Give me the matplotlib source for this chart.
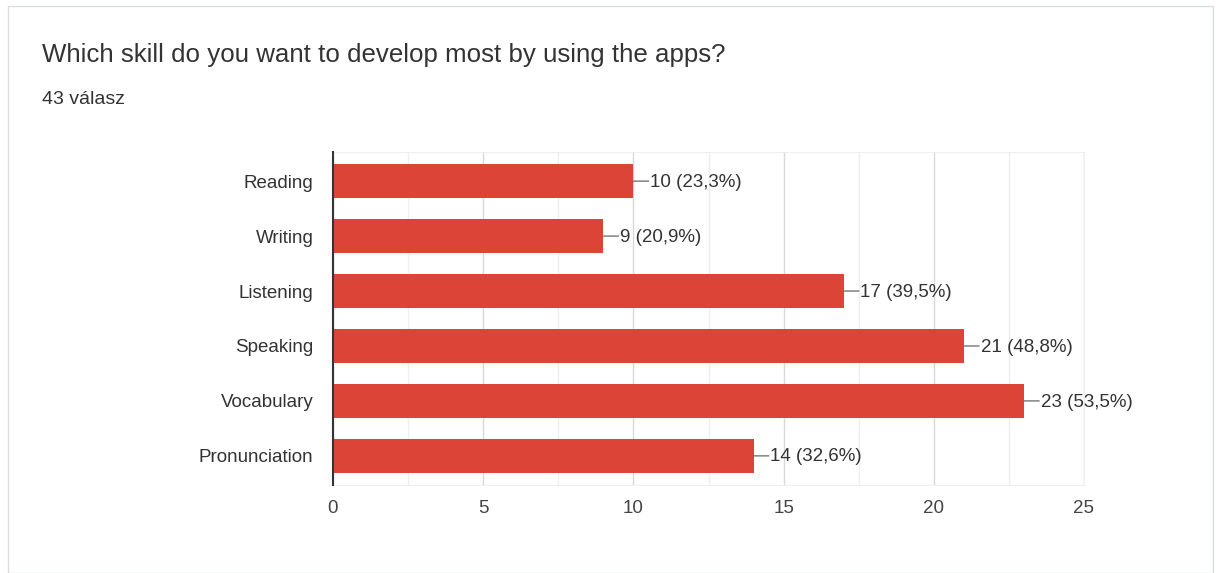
import matplotlib.pyplot as plt
from matplotlib.patches import Rectangle

skills = ['Reading', 'Writing', 'Listening', 'Speaking', 'Vocabulary', 'Pronunciation']
counts = [10, 9, 17, 21, 23, 14]
percents = ['23,3%', '20,9%', '39,5%', '48,8%', '53,5%', '32,6%']
total = 43

bar_color = '#db4437'
text_color = '#333333'

fig = plt.figure(figsize=(12.21, 5.73), dpi=100)
fig.patch.set_facecolor('white')

# card outline
fig.add_artist(Rectangle((8 / 1221, 0), 1205 / 1221, 1 - 6 / 573,
                         transform=fig.transFigure, fill=False,
                         edgecolor='#dadce0', linewidth=1.0))

fig.text(42 / 1221, 1 - 55 / 573, 'Which skill do you want to develop most by using the apps?',
         fontsize=18.6, family='Liberation Sans', color='#333333', va='center')
fig.text(42 / 1221, 1 - 99 / 573, f'{total} válasz',
         fontsize=14, family='Liberation Sans', color='#333333', va='center')

ax = fig.add_axes([333 / 1221, 1 - 485 / 573, 751 / 1221, 333 / 573])
ypos = list(range(len(skills)))
ax.barh(ypos, counts, height=0.62, color=bar_color, zorder=3)

ax.set_xlim(0, 25)
ax.set_ylim(len(skills) - 0.47, -0.53)
ax.set_xticks([0, 5, 10, 15, 20, 25])
ax.set_xticks([2.5, 7.5, 12.5, 17.5, 22.5], minor=True)
ax.set_yticks(ypos)
ax.set_yticklabels(skills)
ax.grid(axis='x', which='major', color='#d9d9d9', linewidth=1, zorder=0)
ax.grid(axis='x', which='minor', color='#efefef', linewidth=1, zorder=0)
ax.tick_params(which='both', length=0)
ax.tick_params(axis='y', pad=14, labelsize=13.5, labelcolor=text_color)
ax.tick_params(axis='x', pad=11, labelsize=13.5, labelcolor='#444444')
for lbl in ax.get_xticklabels() + ax.get_yticklabels():
    lbl.set_family('Liberation Sans')

for side in ['top', 'right', 'bottom']:
    ax.spines[side].set_color('#efefef')
ax.spines['left'].set_color('#333333')
ax.spines['left'].set_linewidth(1.5)
ax.spines['left'].set_zorder(4)

# value labels with a short leader line from the bar end
for y, c, p in zip(ypos, counts, percents):
    ax.annotate('', xy=(c, y), xytext=(11, 0), textcoords='offset points',
                arrowprops=dict(arrowstyle='-', color='#666666', lw=0.9,
                                shrinkA=0, shrinkB=0))
    ax.annotate(f'{c} ({p})', xy=(c, y), xytext=(12, -0.8), textcoords='offset points',
                va='center', ha='left', fontsize=13.5, family='Liberation Sans',
                color=text_color)

fig.savefig('out.png', dpi=100)
